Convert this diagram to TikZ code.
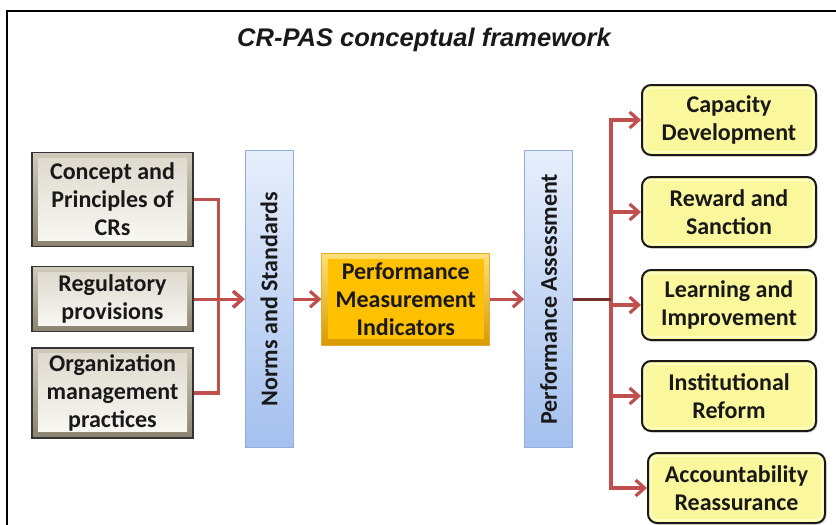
\documentclass[tikz,border=0pt]{standalone}
\usepackage{fontspec}
\setmainfont{Carlito}
\newfontfamily\titlefont{Liberation Sans}
\usetikzlibrary{arrows.meta, positioning, shadows}

\definecolor{linkred}{HTML}{C0504D}
\definecolor{bevdark}{HTML}{8A836F}
\definecolor{bevmid}{HTML}{CFCABB}
\definecolor{bevlight}{HTML}{F8F7F2}
\definecolor{bevinner}{HTML}{DEDACE}
\definecolor{barlight}{HTML}{E6EEFB}
\definecolor{bardark}{HTML}{A4C0EE}
\definecolor{barline}{HTML}{94AEDB}
\definecolor{goldlight}{HTML}{FFE07A}
\definecolor{golddark}{HTML}{D99A00}
\definecolor{goldcore}{HTML}{FFC000}
\definecolor{paleyellow}{HTML}{FAF79C}
\definecolor{yellowhigh}{HTML}{FFFFD6}

\begin{document}
\begin{tikzpicture}[
    x=1pt, y=-1pt,
    every node/.style={inner sep=0pt, align=center, text=black!90},
    boxtext/.style={font=\fontsize{24}{28}\selectfont\bfseries},
    link/.style={draw=linkred, line width=3.2pt, -{Straight Barb[length=9pt,width=16pt]}},
    srcbox/.style={boxtext, draw=black!80, line width=1.2pt,
        minimum width=161pt,
        path picture={
            \fill[top color=bevmid, bottom color=bevdark]
                (path picture bounding box.south west) rectangle (path picture bounding box.north east);
            \fill[top color=bevinner, bottom color=bevlight]
                ([shift={(6pt,6pt)}]path picture bounding box.south west)
                rectangle ([shift={(-6pt,-6pt)}]path picture bounding box.north east);
        }},
    barbox/.style={boxtext, draw=barline, line width=0.8pt,
        top color=barlight, bottom color=bardark,
        minimum width=48pt, minimum height=297pt},
    kpibox/.style={boxtext, draw=golddark!80, line width=0.8pt,
        minimum width=168pt, minimum height=92pt,
        path picture={
            \fill[top color=goldlight, bottom color=golddark]
                (path picture bounding box.south west) rectangle (path picture bounding box.north east);
            \fill[goldcore]
                ([shift={(6pt,6pt)}]path picture bounding box.south west)
                rectangle ([shift={(-6pt,-6pt)}]path picture bounding box.north east);
        }},
    outbox/.style={boxtext, draw=black!90, line width=2pt, rounded corners=9pt,
        fill=paleyellow, minimum width=174pt, minimum height=70pt,
        drop shadow={opacity=0.3, shadow xshift=1.5pt, shadow yshift=-1.5pt},
        path picture={
            \draw[yellowhigh, line width=1.4pt, rounded corners=6pt]
                ([shift={(3pt,3pt)}]path picture bounding box.south west)
                rectangle ([shift={(-3pt,-3pt)}]path picture bounding box.north east);
        }}
]
\useasboundingbox (0,0) rectangle (836,525);

% frame and title
\draw[line width=2.2pt] (7,525) -- (7,11) -- (840,11);
\node (title) [anchor=base] at (424,46)
    {\titlefont\bfseries\itshape\fontsize{25.5}{30}\selectfont CR-PAS conceptual framework};

% inputs
\node[srcbox, minimum height=94pt] (concept) at (112.5,199.5) {Concept and\\Principles of\\CRs};
\node[srcbox, minimum height=65pt, below=19pt of concept] (regul) {Regulatory\\provisions};
\node[srcbox, minimum height=90pt, below=15pt of regul] (organ) {Organization\\management\\practices};

% middle chain
\node[barbox, right=51pt of regul] (norms) {\rotatebox{90}{Norms and Standards}};
\node[kpibox, right=28pt of norms] (pmi) {Performance\\Measurement\\Indicators};
\node[barbox, right=34pt of pmi] (pa) {\rotatebox{90}{Performance Assessment}};

% outcomes
\node[outbox] (cap) at (729,120) {Capacity\\Development};
\node[outbox, below=20pt of cap] (reward) {Reward and\\Sanction};
\node[outbox, below=21pt of reward] (learn) {Learning and\\Improvement};
\node[outbox, below=19pt of learn] (inst) {Institutional\\Reform};
\node[outbox, minimum width=177pt, below=20pt of inst, xshift=7.5pt] (acct) {Accountability\\Reassurance};

% connectors
\draw[link] (concept.east) -- ++(25,0) |- (norms.west);
\draw[link] (organ.east) -- ++(25,0) |- (norms.west);
\draw[link] (regul.east) -- (norms.west);
\draw[link] (norms) -- (pmi);
\draw[link] (pmi) -- (pa);
\foreach \out in {cap, reward, learn, inst, acct}
    \draw[link] (pa.east) -- ++(38,0) |- (\out.west);
\draw[linkred!60!black, line width=3.2pt] (pa.east) -- ++(38,0);

\end{tikzpicture}
\end{document}
